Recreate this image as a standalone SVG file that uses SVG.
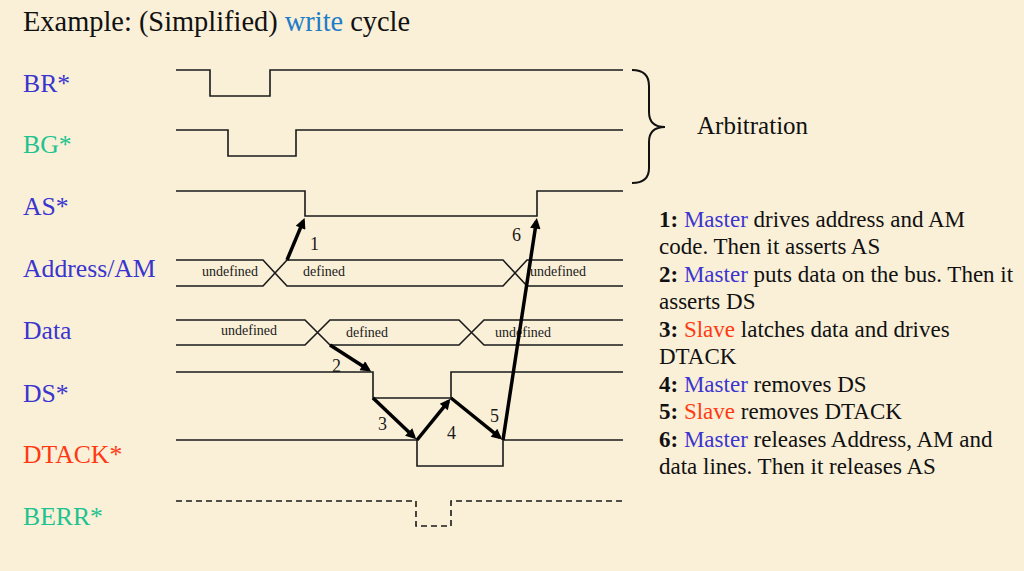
<svg xmlns="http://www.w3.org/2000/svg" width="1024" height="571" viewBox="0 0 1024 571">
<defs>
<style>
.sig{fill:none;stroke:#1a1a1a;stroke-width:1.6}
.dash{stroke-dasharray:6 4}
.lbl{font-family:"Liberation Serif","Times New Roman",serif;font-size:25.7px}
.bus{font-family:"Liberation Serif","Times New Roman",serif;font-size:14px;fill:#1a1a1a}
.num{font-family:"Liberation Serif","Times New Roman",serif;font-size:18px;fill:#1a1a1a}
.txt{font-family:"Liberation Serif","Times New Roman",serif;font-size:23px;fill:#111}
.arr{fill:none;stroke:#000;stroke-width:3.5;marker-end:url(#ah)}
.blue{fill:#3b35cf}
.green{fill:#1fc38f}
.red{fill:#ff3a12}
</style>
<marker id="ah" viewBox="0 0 10 10" refX="7" refY="5" markerWidth="4" markerHeight="3" orient="auto">
<path d="M0,0 L10,5 L0,10 z" fill="#000"/>
</marker>
</defs>
<rect width="1024" height="571" fill="#faf0d8"/>

<text x="23" y="31" font-family="'Liberation Serif','Times New Roman',serif" font-size="28.4" fill="#111">Example: (Simplified) <tspan fill="#1f7cc6">write</tspan> cycle</text>

<g id="BR">
<text class="lbl blue" x="23" y="92">BR*</text>
<path class="sig" d="M176,70 H210 V96 H270 V70 H623"/>
</g>
<g id="BG">
<text class="lbl green" x="23" y="153">BG*</text>
<path class="sig" d="M176,130 H228 V156 H296 V130 H623"/>
</g>
<g id="arbitration">
<path d="M632,70 Q649,70 649,86 V112 Q649,127 665,127 Q649,127 649,142 V168 Q649,183 632,183" fill="none" stroke="#111" stroke-width="2"/>
<text x="697" y="134" font-family="'Liberation Serif','Times New Roman',serif" font-size="25" fill="#111">Arbitration</text>
</g>
<g id="AS">
<text class="lbl blue" x="23" y="215">AS*</text>
<path class="sig" d="M176,191 H305 V216 H537 V191 H623"/>
</g>
<g id="AddressAM">
<text class="lbl blue" x="23" y="277">Address/AM</text>
<path class="sig" d="M176,260 H263 L287,286 H503 L527,260 H623 M176,286 H263 L287,260 H503 L527,286 H623"/>
<text class="bus" x="202" y="276">undefined</text>
<text class="bus" x="303" y="276">defined</text>
<text class="bus" x="530" y="276">undefined</text>
</g>
<g id="Data">
<text class="lbl blue" x="23" y="339">Data</text>
<path class="sig" d="M176,320 H305 L330,345 H459 L484,320 H623 M176,345 H305 L330,320 H459 L484,345 H623"/>
<text class="bus" x="221" y="335">undefined</text>
<text class="bus" x="346" y="337">defined</text>
<text class="bus" x="495" y="337">undefined</text>
</g>
<g id="DS">
<text class="lbl blue" x="23" y="402">DS*</text>
<path class="sig" d="M176,372 H373 V398 H451 V372 H623"/>
</g>
<g id="DTACK">
<text class="lbl red" x="23" y="463">DTACK*</text>
<path class="sig" d="M176,440 H417 V466 H503 V440 H623"/>
</g>
<g id="BERR">
<text class="lbl green" x="23" y="525">BERR*</text>
<path class="sig dash" d="M176,501 H416 V526 H451 V501 H623"/>
</g>

<g id="connectors">
<line class="arr" x1="287" y1="260" x2="303.4" y2="220.9"/>
<line class="arr" x1="330" y1="345" x2="368.5" y2="369.7"/>
<line class="arr" x1="373" y1="398" x2="414" y2="437.1"/>
<line class="arr" x1="417" y1="440" x2="448.4" y2="401.3"/>
<line class="arr" x1="451" y1="398" x2="499.7" y2="437.4"/>
<line class="arr" x1="503" y1="440" x2="536.4" y2="221.2"/>
<text class="num" x="310" y="250">1</text>
<text class="num" x="332" y="372">2</text>
<text class="num" x="378" y="430">3</text>
<text class="num" x="447" y="439">4</text>
<text class="num" x="490" y="422">5</text>
<text class="num" x="512" y="241">6</text>
</g>

<g id="legend">
<text class="txt" x="659" y="227"><tspan font-weight="bold">1:</tspan> <tspan class="blue">Master</tspan> drives address and AM</text>
<text class="txt" x="659" y="254">code. Then it asserts AS</text>
<text class="txt" x="659" y="282"><tspan font-weight="bold">2:</tspan> <tspan class="blue">Master</tspan> puts data on the bus. Then it</text>
<text class="txt" x="659" y="309">asserts DS</text>
<text class="txt" x="659" y="337"><tspan font-weight="bold">3:</tspan> <tspan class="red">Slave</tspan> latches data and drives</text>
<text class="txt" x="659" y="364">DTACK</text>
<text class="txt" x="659" y="392"><tspan font-weight="bold">4:</tspan> <tspan class="blue">Master</tspan> removes DS</text>
<text class="txt" x="659" y="419"><tspan font-weight="bold">5:</tspan> <tspan class="red">Slave</tspan> removes DTACK</text>
<text class="txt" x="659" y="447"><tspan font-weight="bold">6:</tspan> <tspan class="blue">Master</tspan> releases Address, AM and</text>
<text class="txt" x="659" y="474">data lines. Then it releases AS</text>
</g>
</svg>
